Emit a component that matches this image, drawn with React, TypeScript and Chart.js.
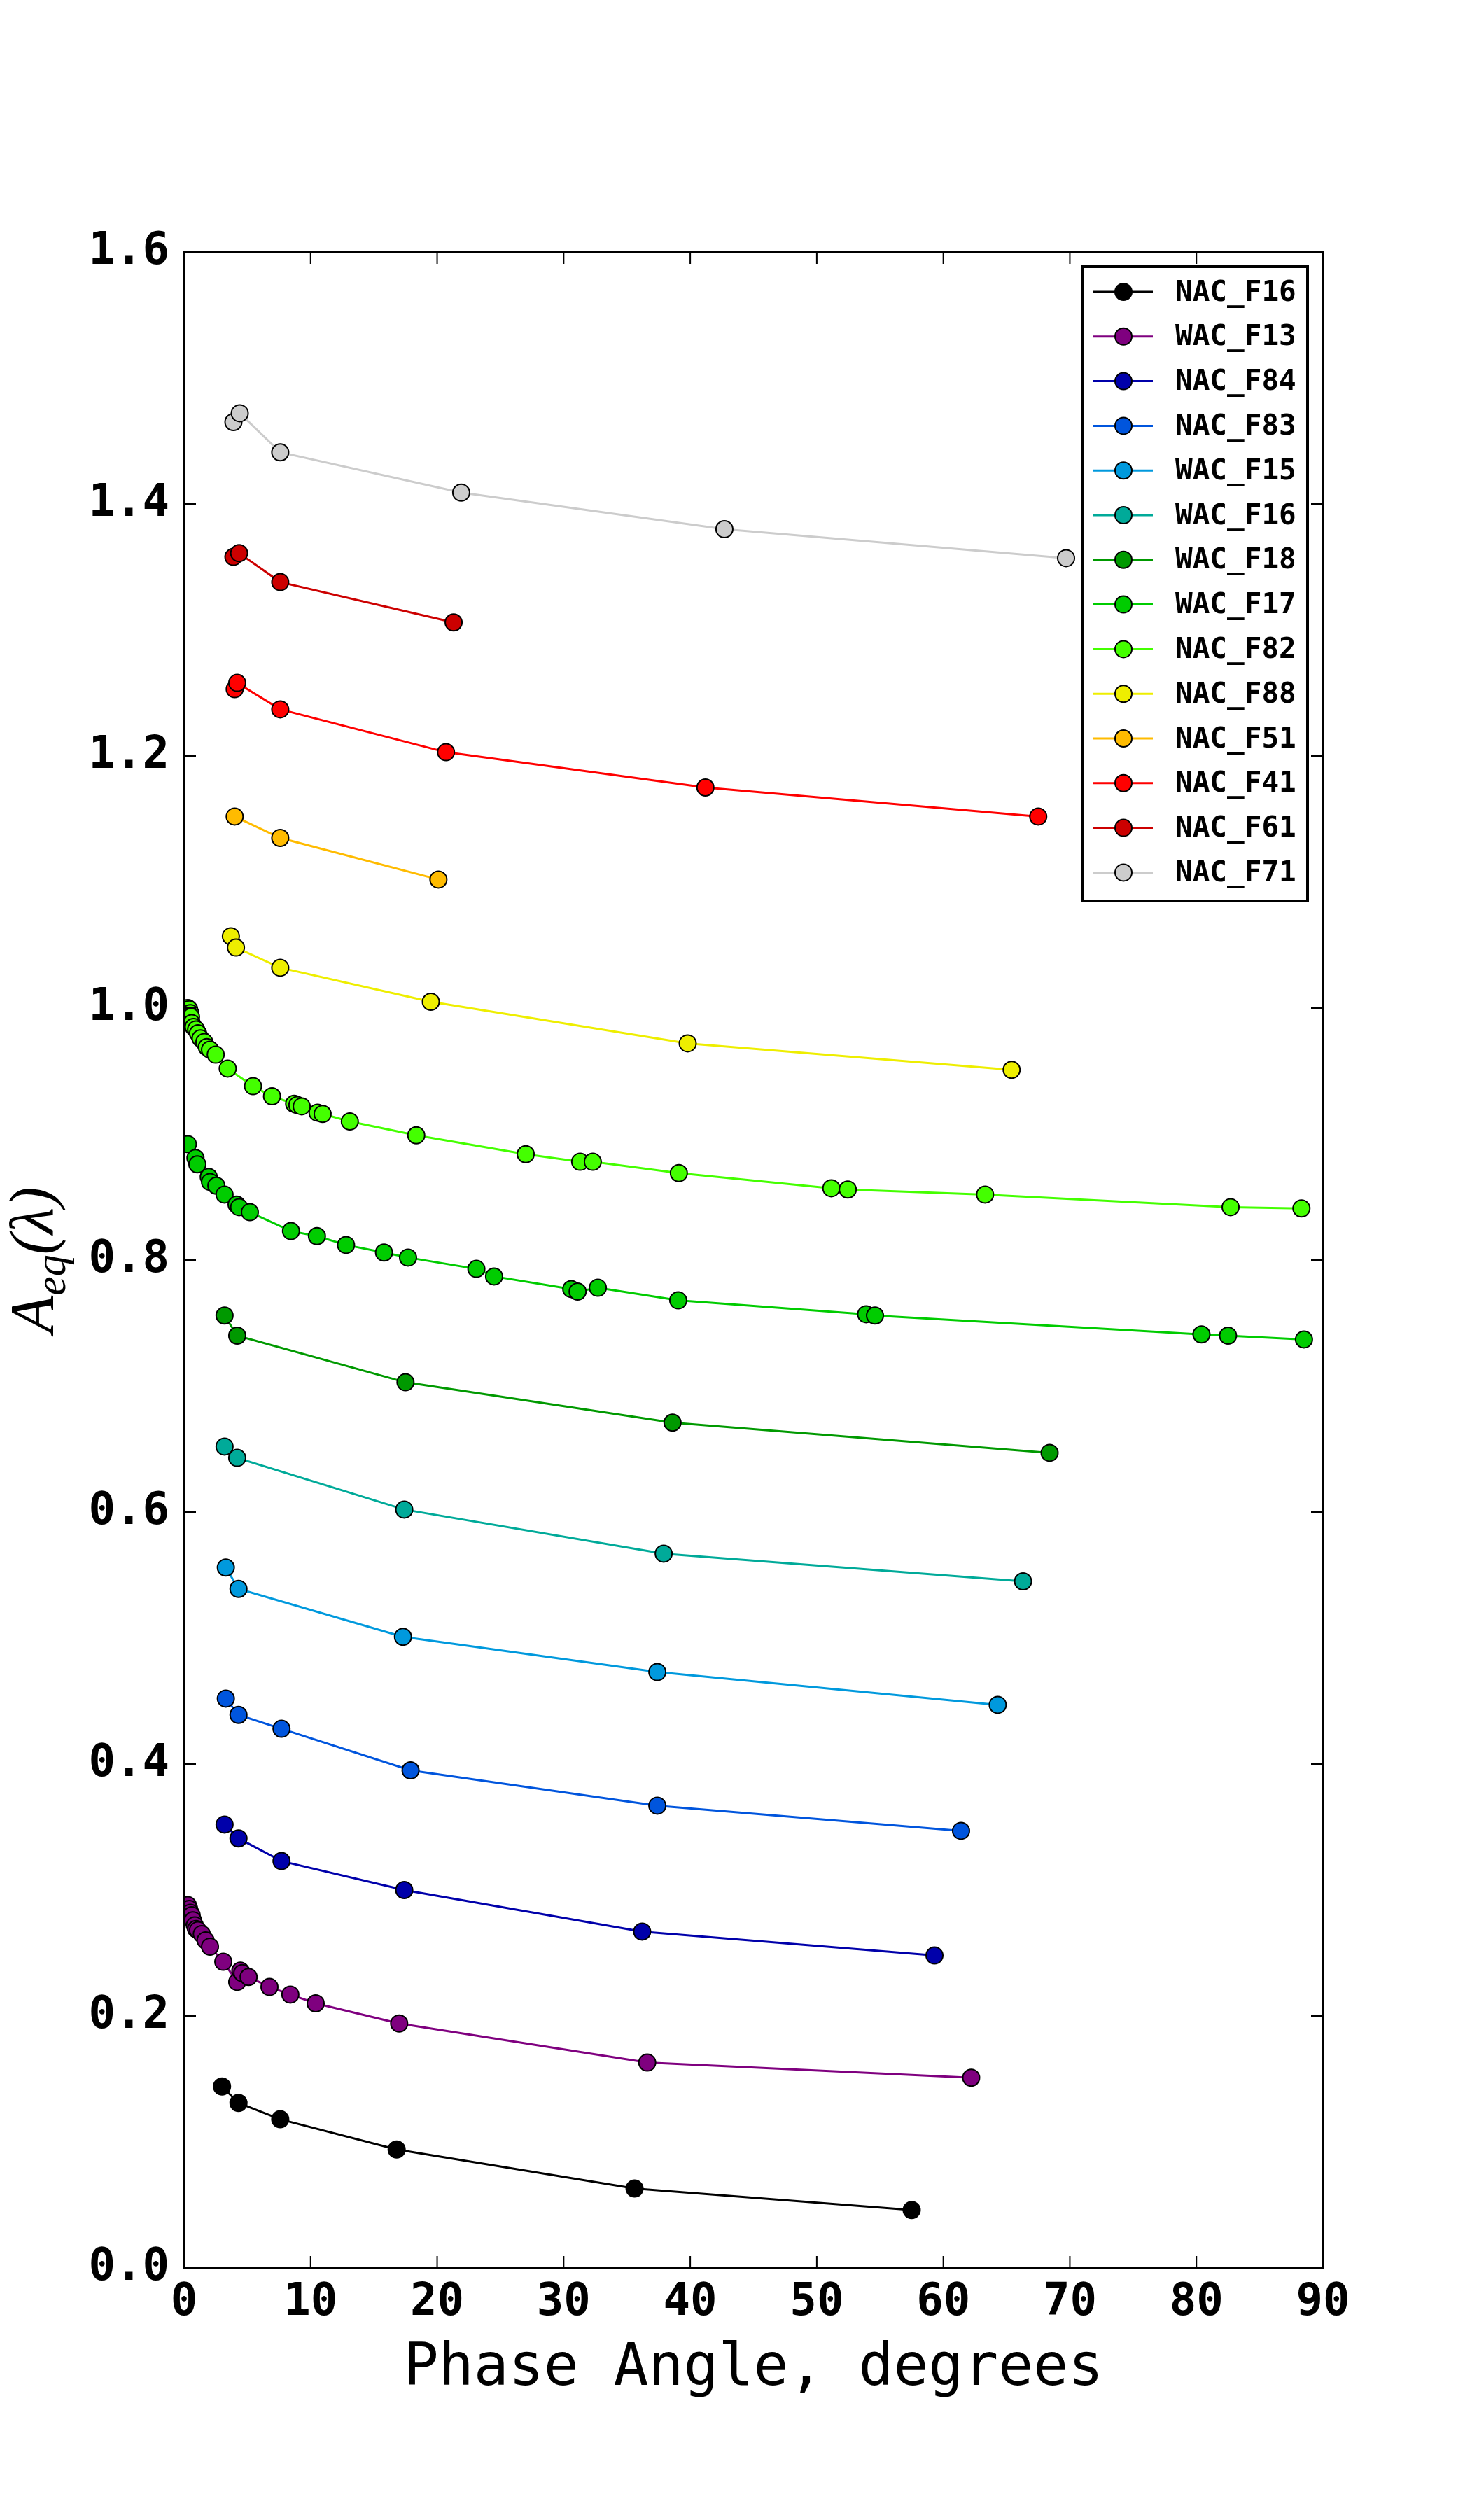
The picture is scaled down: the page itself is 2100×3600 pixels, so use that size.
import { useEffect, useRef } from "react";
import { Chart, registerables } from "chart.js";

Chart.register(...registerables);

const seriesNames = [
  "NAC_F16", "WAC_F13", "NAC_F84", "NAC_F83", "WAC_F15", "WAC_F16", "WAC_F18",
  "WAC_F17", "NAC_F82", "NAC_F88", "NAC_F51", "NAC_F41", "NAC_F61", "NAC_F71",
];
const seriesColors = [
  "#000000", "#7f007f", "#0000aa", "#0055dd", "#0099dd", "#00aa99", "#009900",
  "#00cc00", "#44ff00", "#eeee00", "#ffbb00", "#ff0000", "#cc0000", "#cccccc",
];

// phase angle (deg) / A_eq for each filter
const nacF16X = [3.0, 4.3, 7.6, 16.8, 35.6, 57.5];
const nacF16Y = [0.144, 0.131, 0.118, 0.094, 0.063, 0.046];

const wacF13X = [0.3, 0.4, 0.5, 0.6, 0.7, 0.85, 0.95, 1.1, 1.4, 1.7, 2.05, 3.1, 4.2, 4.45, 4.6, 5.1, 6.75, 8.4, 10.4, 17.0, 36.6, 62.2];
const wacF13Y = [0.288, 0.285, 0.282, 0.28, 0.276, 0.272, 0.269, 0.268, 0.265, 0.26, 0.255, 0.243, 0.227, 0.236, 0.234, 0.231, 0.223, 0.217, 0.21, 0.194, 0.163, 0.151];

const nacF84X = [3.2, 4.3, 7.7, 17.4, 36.2, 59.3];
const nacF84Y = [0.352, 0.341, 0.323, 0.3, 0.267, 0.248];

const nacF83X = [3.3, 4.3, 7.7, 17.9, 37.4, 61.4];
const nacF83Y = [0.452, 0.439, 0.428, 0.395, 0.367, 0.347];

const wacF15X = [3.3, 4.3, 17.3, 37.4, 64.3];
const wacF15Y = [0.556, 0.539, 0.501, 0.473, 0.447];

const wacF16X = [3.2, 4.2, 17.4, 37.9, 66.3];
const wacF16Y = [0.652, 0.643, 0.602, 0.567, 0.545];

const wacF18X = [3.2, 4.2, 17.5, 38.6, 68.4];
const wacF18Y = [0.756, 0.74, 0.703, 0.671, 0.647];

const wacF17X = [0.3, 0.9, 1.05, 1.95, 2.05, 2.55, 3.2, 4.15, 4.35, 5.2, 8.45, 10.5, 12.8, 15.8, 17.7, 23.1, 24.5, 30.6, 31.1, 32.7, 39.05, 53.9, 54.6, 80.4, 82.5, 88.5];
const wacF17Y = [0.892, 0.881, 0.876, 0.866, 0.862, 0.859, 0.852, 0.844, 0.842, 0.838, 0.823, 0.819, 0.812, 0.806, 0.802, 0.793, 0.787, 0.777, 0.775, 0.778, 0.768, 0.757, 0.756, 0.741, 0.74, 0.737];

const nacF82X = [0.3, 0.4, 0.5, 0.55, 0.6, 0.75, 0.95, 1.1, 1.3, 1.6, 1.8, 2.05, 2.5, 3.45, 5.45, 6.95, 8.7, 8.95, 9.3, 10.55, 10.95, 13.1, 18.35, 27.0, 31.3, 32.3, 39.1, 51.15, 52.45, 63.3, 82.7, 88.3];
const nacF82Y = [1.0, 0.999, 0.996, 0.993, 0.988, 0.985, 0.983, 0.98, 0.976, 0.973, 0.969, 0.967, 0.963, 0.952, 0.938, 0.93, 0.924, 0.923, 0.922, 0.917, 0.916, 0.91, 0.899, 0.884, 0.878, 0.878, 0.869, 0.857, 0.856, 0.852, 0.842, 0.841];

const nacF88X = [3.7, 4.1, 7.6, 19.5, 39.8, 65.4];
const nacF88Y = [1.057, 1.048, 1.032, 1.005, 0.972, 0.951];

const nacF51X = [4.0, 7.6, 20.1];
const nacF51Y = [1.152, 1.135, 1.102];

const nacF41X = [4.0, 4.2, 7.6, 20.7, 41.2, 67.5];
const nacF41Y = [1.253, 1.258, 1.237, 1.203, 1.175, 1.152];

const nacF61X = [3.9, 4.35, 7.6, 21.3];
const nacF61Y = [1.358, 1.361, 1.338, 1.306];

const nacF71X = [3.9, 4.4, 7.6, 21.9, 42.7, 69.7];
const nacF71Y = [1.465, 1.472, 1.441, 1.409, 1.38, 1.357];

const seriesX = [nacF16X, wacF13X, nacF84X, nacF83X, wacF15X, wacF16X, wacF18X, wacF17X, nacF82X, nacF88X, nacF51X, nacF41X, nacF61X, nacF71X];
const seriesY = [nacF16Y, wacF13Y, nacF84Y, nacF83Y, wacF15Y, wacF16Y, wacF18Y, wacF17Y, nacF82Y, nacF88Y, nacF51Y, nacF41Y, nacF61Y, nacF71Y];

const xTicks = [0, 10, 20, 30, 40, 50, 60, 70, 80, 90];
const yTicks = [0, 0.2, 0.4, 0.6, 0.8, 1.0, 1.2, 1.4, 1.6];

const xTitle = "Phase Angle, degrees";

const MONO = "'DejaVu Sans Mono', monospace";
const SERIF = "'Liberation Serif', 'DejaVu Serif', serif";

const framePlugin = {
  id: "frame",
  afterDraw(chart: any) {
    const { ctx, chartArea: a, scales } = chart;
    ctx.save();

    // inward ticks on all four sides
    ctx.strokeStyle = "#000";
    ctx.lineWidth = 2;
    const tl = 17;
    ctx.beginPath();
    for (const v of xTicks) {
      const px = scales.x.getPixelForValue(v);
      ctx.moveTo(px, a.bottom);
      ctx.lineTo(px, a.bottom - tl);
      ctx.moveTo(px, a.top);
      ctx.lineTo(px, a.top + tl);
    }
    for (const v of yTicks) {
      const py = scales.y.getPixelForValue(v);
      ctx.moveTo(a.left, py);
      ctx.lineTo(a.left + tl, py);
      ctx.moveTo(a.right, py);
      ctx.lineTo(a.right - tl, py);
    }
    ctx.stroke();

    ctx.lineWidth = 4;
    ctx.strokeRect(a.left, a.top, a.right - a.left, a.bottom - a.top);

    // legend box
    const bx = a.right - 344;
    const by = a.top + 21;
    const bw = 322;
    const bh = 906;
    ctx.fillStyle = "#fff";
    ctx.fillRect(bx, by, bw, bh);
    ctx.lineWidth = 4;
    ctx.strokeRect(bx, by, bw, bh);
    ctx.font = `bold 41px ${MONO}`;
    ctx.textBaseline = "middle";
    ctx.textAlign = "left";
    seriesNames.forEach((name, i) => {
      const ry = by + 36 + i * 63.8;
      ctx.strokeStyle = seriesColors[i];
      ctx.lineWidth = 3;
      ctx.beginPath();
      ctx.moveTo(bx + 15, ry);
      ctx.lineTo(bx + 101, ry);
      ctx.stroke();
      ctx.beginPath();
      ctx.arc(bx + 59, ry, 12, 0, Math.PI * 2);
      ctx.fillStyle = seriesColors[i];
      ctx.fill();
      ctx.strokeStyle = "#000";
      ctx.lineWidth = 2;
      ctx.stroke();
      ctx.fillStyle = "#000";
      ctx.fillText(name, bx + 133, ry + 2);
    });

    // x axis title
    ctx.font = `83px ${MONO}`;
    ctx.textAlign = "center";
    ctx.textBaseline = "alphabetic";
    ctx.fillText(xTitle, (a.left + a.right) / 2, a.bottom + 167);

    // y axis title A_eq(λ)
    ctx.translate(75, (a.top + a.bottom) / 2);
    ctx.rotate(-Math.PI / 2);
    const big = `italic 88px ${SERIF}`;
    const small = `italic 62px ${SERIF}`;
    ctx.font = big;
    const wA = ctx.measureText("A").width;
    const wP = ctx.measureText("(λ)").width;
    ctx.font = small;
    const wE = ctx.measureText("eq").width;
    const start = -(wA + wE + wP) / 2;
    ctx.textAlign = "left";
    ctx.font = big;
    ctx.fillText("A", start, 0);
    ctx.font = small;
    ctx.fillText("eq", start + wA, 18);
    ctx.font = big;
    ctx.fillText("(λ)", start + wA + wE, 0);

    ctx.restore();
  },
};

export default function App() {
  const canvasRef = useRef<HTMLCanvasElement>(null);

  useEffect(() => {
    document.body.style.margin = "0";
    if (!canvasRef.current) return;
    const ctx = canvasRef.current.getContext("2d");
    if (!ctx) return;

    const datasets = seriesNames.map((name, i) => ({
      label: name,
      data: seriesX[i].map((x, j) => ({ x, y: seriesY[i][j] })),
      borderColor: seriesColors[i],
      backgroundColor: seriesColors[i],
      borderWidth: 3,
      pointRadius: 12,
      pointBorderWidth: 2,
      pointBorderColor: "#000",
      pointBackgroundColor: seriesColors[i],
      tension: 0,
    }));

    const tickFont = { family: MONO, weight: "bold" as const, size: 64 };

    const chart = new Chart(ctx, {
      type: "line",
      data: { datasets },
      options: {
        animation: false,
        responsive: true,
        maintainAspectRatio: false,
        events: [],
        layout: { padding: { top: 360, right: 210, bottom: 0, left: 0 } },
        plugins: {
          legend: { display: false },
          tooltip: { enabled: false },
        },
        scales: {
          x: {
            type: "linear",
            min: 0,
            max: 90,
            afterFit: (s: any) => {
              s.height = 360;
            },
            grid: { display: false, drawTicks: false },
            border: { display: false },
            ticks: {
              stepSize: 10,
              autoSkip: false,
              maxRotation: 0,
              padding: 12,
              color: "#000",
              font: tickFont,
            },
          },
          y: {
            type: "linear",
            min: 0,
            max: 1.6,
            afterFit: (s: any) => {
              s.width = 263;
            },
            grid: { display: false, drawTicks: false },
            border: { display: false },
            ticks: {
              stepSize: 0.2,
              padding: 21,
              color: "#000",
              font: tickFont,
              callback: (v: any) => Number(v).toFixed(1),
            },
          },
        },
      },
      plugins: [framePlugin],
    });

    return () => {
      chart.destroy();
    };
  }, []);

  return (
    <div style={{ position: "relative", width: 2100, height: 3600, background: "#fff" }}>
      <canvas ref={canvasRef} />
    </div>
  );
}
